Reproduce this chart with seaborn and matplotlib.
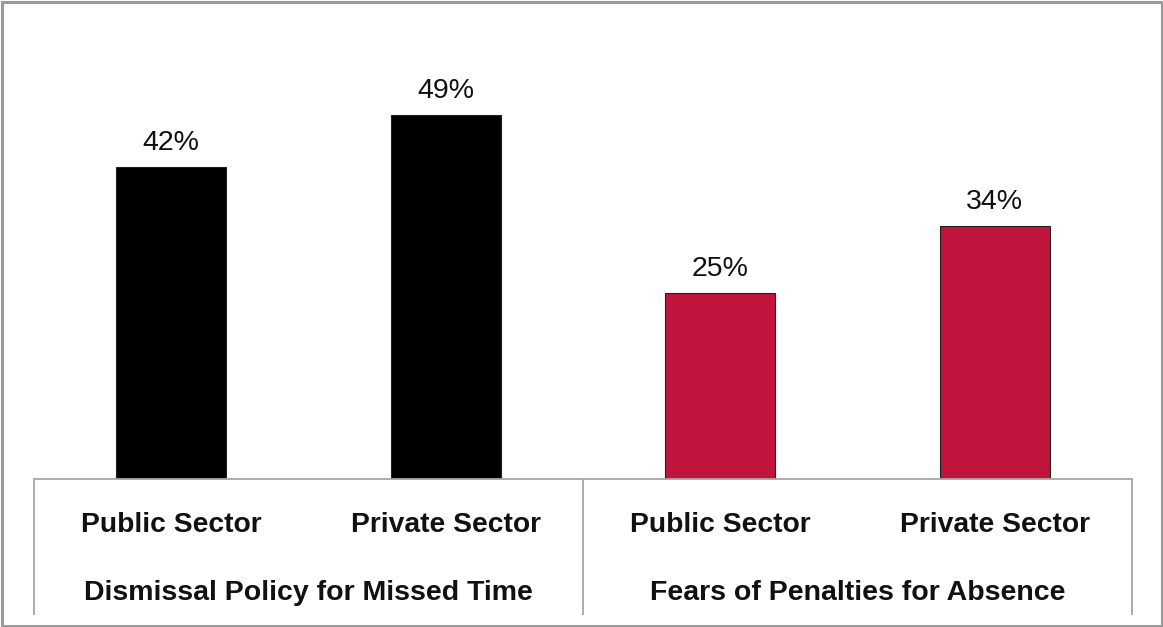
import matplotlib
matplotlib.use("Agg")
import matplotlib.pyplot as plt
import seaborn as sns
import pandas as pd
from matplotlib.patches import Rectangle

groups = ["Dismissal Policy for Missed Time", "Dismissal Policy for Missed Time",
          "Fears of Penalties for Absence", "Fears of Penalties for Absence"]
sectors = ["Public Sector", "Private Sector", "Public Sector", "Private Sector"]
values = [42, 49, 25, 34]
group_names = ["Dismissal Policy for Missed Time", "Fears of Penalties for Absence"]
group_colors = ["#000000", "#C0143C"]

df = pd.DataFrame({"pos": [f"{g}|{s}" for g, s in zip(groups, sectors)],
                   "sector": sectors, "group": groups, "value": values})

sns.set_theme(style="white")
plt.rcParams["font.family"] = ["Liberation Sans", "DejaVu Sans"]

W, H = 1163, 627
fig = plt.figure(figsize=(W / 100, H / 100), dpi=100)
ax_left, ax_right, ax_base, ax_top = 34, 1132, 479, 33
ax = fig.add_axes([ax_left / W, (H - ax_base) / H, (ax_right - ax_left) / W, (ax_base - ax_top) / H])

sns.barplot(data=df, x="pos", y="value", hue="group", hue_order=group_names,
            palette=group_colors, saturation=1, dodge=False, width=0.40,
            edgecolor="#222222", linewidth=0.8, legend=False, ax=ax)

ax.set_xlim(-0.5, len(values) - 0.5)
ax.set_ylim(0, 60)
ax.set_xlabel("")
ax.set_ylabel("")
ax.set_xticks([])
ax.set_yticks([])
for s in ["left", "right", "top"]:
    ax.spines[s].set_visible(False)
ax.spines["bottom"].set_color("#A6A6A6")
ax.spines["bottom"].set_linewidth(1.3)

for i, v in enumerate(values):
    ax.annotate(f"{v}%", (i, v), xytext=(0, 8), textcoords="offset points",
                ha="center", va="bottom", fontsize=20.5, color="#111111")

trans = ax.get_xaxis_transform()
axh = ax_base - ax_top
y_row1 = -(525 - ax_base) / axh
y_row2 = -(593 - ax_base) / axh
y_end = -(615 - ax_base) / axh
for i, s in enumerate(sectors):
    ax.text(i, y_row1, s, transform=trans, ha="center", va="center",
            fontsize=20.3, fontweight="bold", color="#111111")
for k, g in enumerate(group_names):
    ax.text(2 * k + 0.5, y_row2, g, transform=trans, ha="center", va="center",
            fontsize=20.5, fontweight="bold", color="#111111")
for xb in [-0.5, 1.5, 3.5]:
    ax.plot([xb, xb], [0, y_end], transform=trans, color="#A6A6A6", lw=1.3,
            clip_on=False, solid_capstyle="butt")

fig.patches.append(Rectangle((1.5 / W, 1.5 / H), (W - 3) / W, (H - 3) / H,
                             transform=fig.transFigure, fill=False,
                             edgecolor="#9A9A9A", linewidth=2.2))

fig.savefig("out.png", dpi=100, facecolor="white")
